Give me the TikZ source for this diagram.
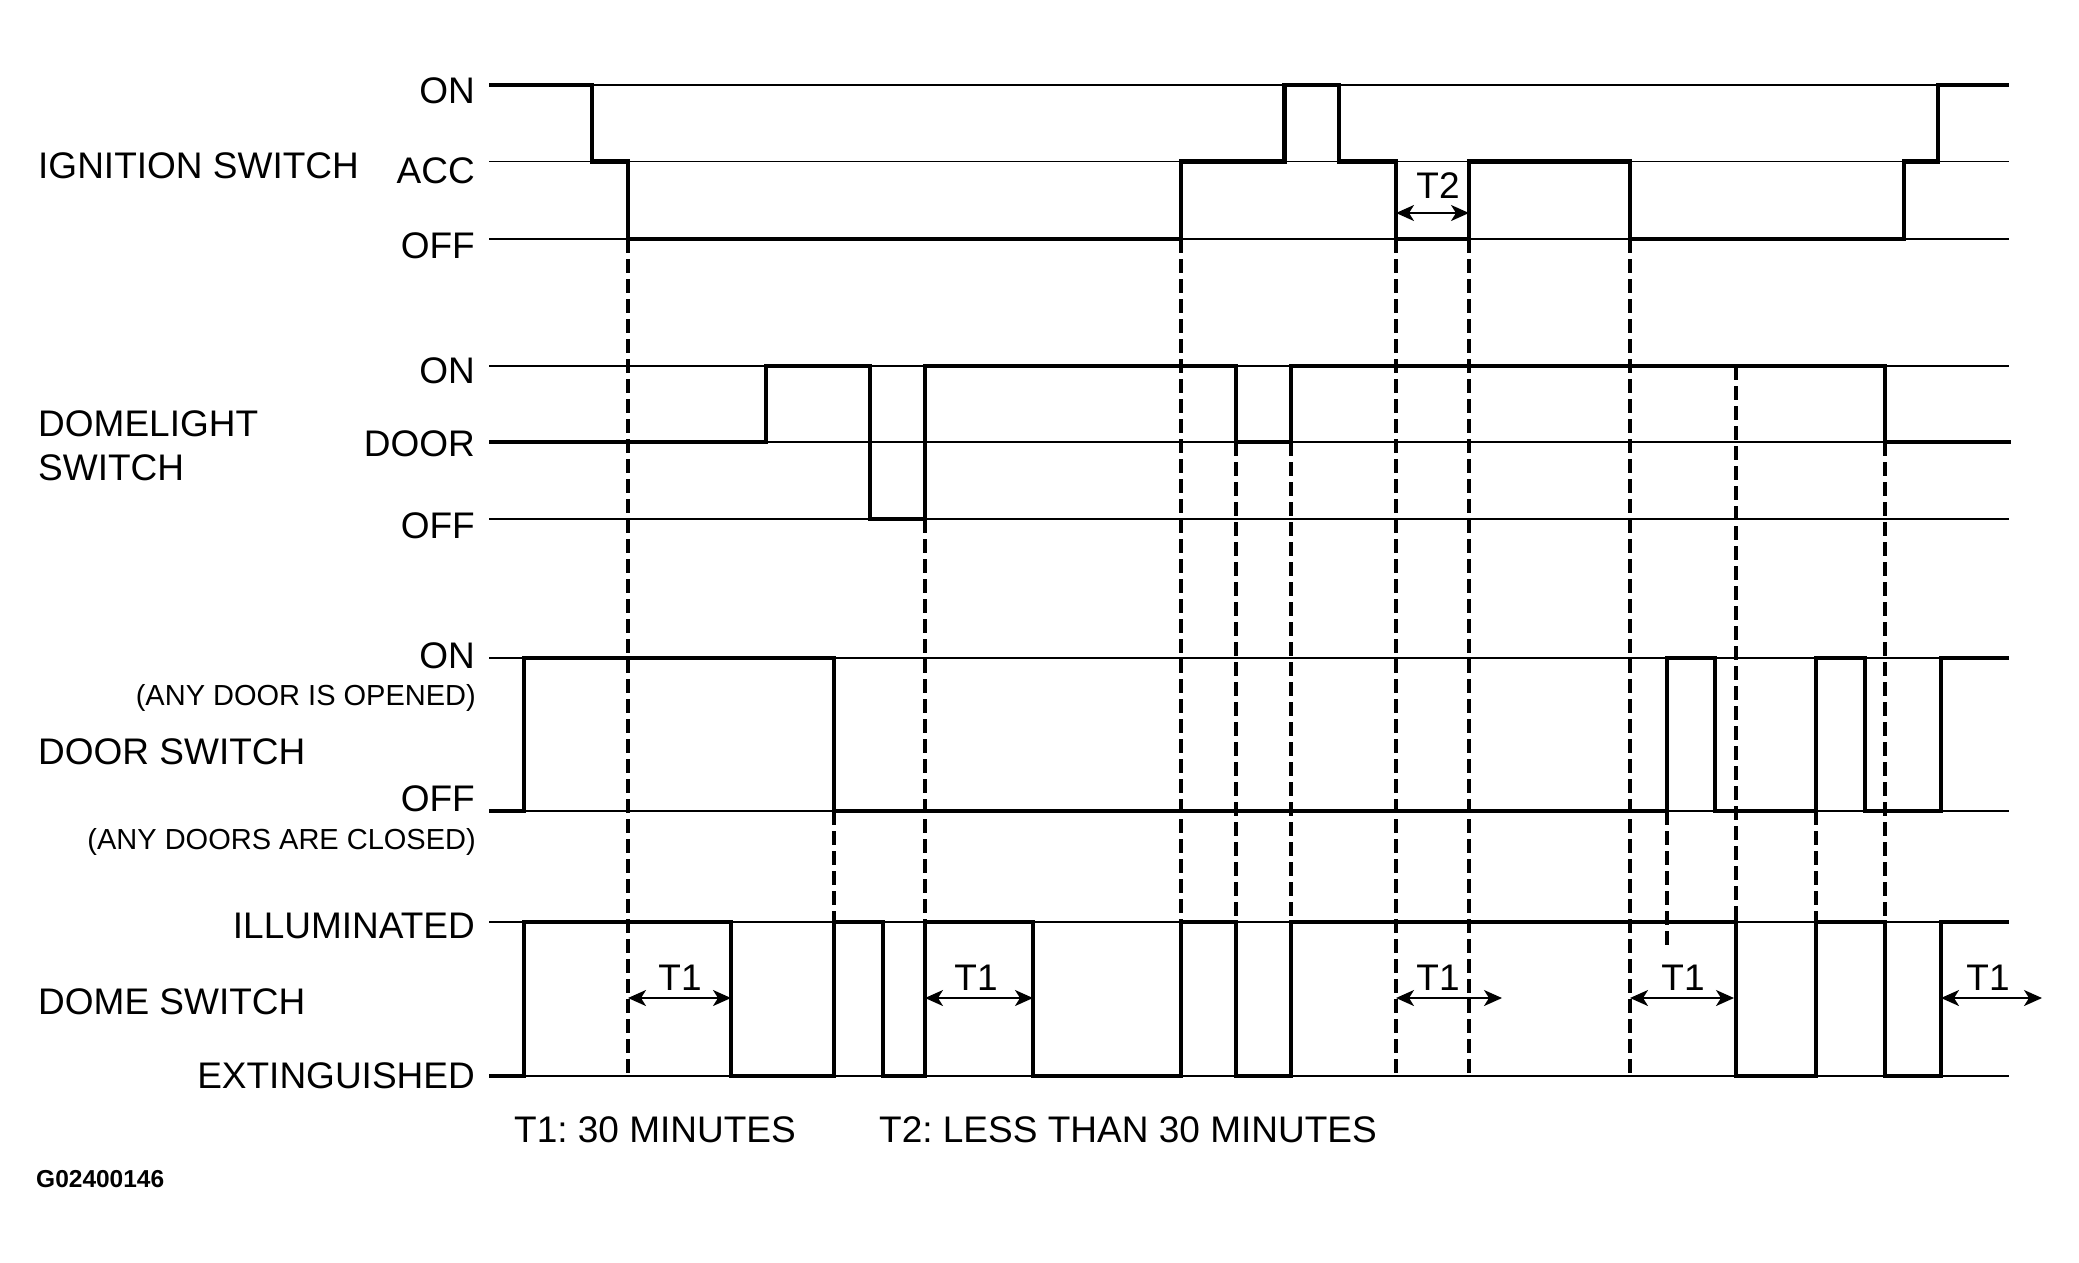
\documentclass[tikz,border=0pt]{standalone}
\usepackage{fontspec}
\setmainfont{Liberation Sans}
\usetikzlibrary{arrows.meta}
\frenchspacing
\begin{document}
\begin{tikzpicture}[x=1pt,y=-1pt,
  gridline/.style={line width=1.3pt},
  sig/.style={line width=4.4pt, line join=miter},
  vdash/.style={line width=3.2pt, dash pattern=on 13.5pt off 6.5pt},
  tarrow/.style={line width=2pt, {Stealth[length=18pt,width=16pt,inset=5pt]}-{Stealth[length=18pt,width=16pt,inset=5pt]}},
  lab/.style={inner sep=0pt, font=\fontsize{37}{44}\selectfont},
  state/.style={lab, anchor=base east},
  sname/.style={lab, anchor=base west},
  tlab/.style={lab, anchor=base},
  note/.style={inner sep=0pt, anchor=base east, font=\fontsize{29}{34}\selectfont},
]
\useasboundingbox[fill=white] (0,0) rectangle (2079,1262);
% level lines
\foreach \yy in {85,161.5,239,366,442,519,658,811,922,1076}
  \draw[gridline] (489,\yy) -- (2009,\yy);
% dashed guide lines
\draw[vdash] (628,239) -- (628,1076);
\draw[vdash] (925,519) -- (925,922);
\draw[vdash] (834,811) -- (834,922);
\draw[vdash] (1181,239) -- (1181,922);
\draw[vdash] (1236,442) -- (1236,922);
\draw[vdash] (1291,442) -- (1291,922);
\draw[vdash] (1396,239) -- (1396,1076);
\draw[vdash] (1469,239) -- (1469,1076);
\draw[vdash] (1630,239) -- (1630,1076);
\draw[vdash] (1736,366) -- (1736,922);
\draw[vdash] (1885,442) -- (1885,922);
\draw[vdash] (1667,811) -- (1667,947);
\draw[vdash] (1816,811) -- (1816,922);
% ignition switch
\draw[sig] (489,85) -- (592,85) -- (592,161.5) -- (628,161.5) -- (628,239) -- (1181,239) -- (1181,161.5) -- (1284.5,161.5) -- (1284.5,85) -- (1339,85) -- (1339,161.5) -- (1396,161.5) -- (1396,239) -- (1469,239) -- (1469,161.5) -- (1630,161.5) -- (1630,239) -- (1904,239) -- (1904,161.5) -- (1938,161.5) -- (1938,85) -- (2009,85);
% domelight switch
\draw[sig] (489,442) -- (766,442) -- (766,366) -- (870,366) -- (870,519) -- (925,519) -- (925,366) -- (1236,366) -- (1236,442) -- (1291,442) -- (1291,366) -- (1885,366) -- (1885,442) -- (2011,442);
% door switch
\draw[sig] (489,811) -- (524,811) -- (524,658) -- (834,658) -- (834,811) -- (1667,811) -- (1667,658) -- (1715,658) -- (1715,811) -- (1816,811) -- (1816,658) -- (1865,658) -- (1865,811) -- (1941,811) -- (1941,658) -- (2009,658);
% dome switch
\draw[sig] (489,1076) -- (524,1076) -- (524,922) -- (731,922) -- (731,1076) -- (834,1076) -- (834,922) -- (883,922) -- (883,1076) -- (925,1076) -- (925,922) -- (1033,922) -- (1033,1076) -- (1181,1076) -- (1181,922) -- (1236,922) -- (1236,1076) -- (1291,1076) -- (1291,922) -- (1736,922) -- (1736,1076) -- (1816,1076) -- (1816,922) -- (1885,922) -- (1885,1076) -- (1941,1076) -- (1941,922) -- (2009,922);
% time arrows
\draw[tarrow] (1396,213) -- (1469,213);
\node[tlab] (t2) at (1438,198) {T2};
\draw[tarrow] (628,998) -- (731,998);
\node[tlab] (t1a) at (680,990) {T1};
\draw[tarrow] (925,998) -- (1033,998);
\node[tlab] (t1b) at (976,990) {T1};
\draw[tarrow] (1396,998) -- (1502,998);
\node[tlab] (t1c) at (1438,990) {T1};
\draw[tarrow] (1630,998) -- (1734,998);
\node[tlab] (t1d) at (1683,990) {T1};
\draw[tarrow] (1941,998) -- (2042,998);
\node[tlab] (t1e) at (1988,990) {T1};
% signal names
\node[sname] (nign) at (38,178) {IGNITION SWITCH};
\node[sname] (ndl1) at (38,436) {DOMELIGHT};
\node[sname] (ndl2) at (38,480) {SWITCH};
\node[sname] (ndoor) at (38,764) {DOOR SWITCH};
\node[sname] (ndome) at (38,1014) {DOME SWITCH};
% state labels
\node[state] (s1) at (475,103) {ON};
\node[state] (s2) at (475,183) {ACC};
\node[state] (s3) at (475,258) {OFF};
\node[state] (s4) at (475,383) {ON};
\node[state] (s5) at (475,456) {DOOR};
\node[state] (s6) at (475,538) {OFF};
\node[state] (s7) at (475,668) {ON};
\node[note] (s7n) at (476,705) {(ANY DOOR IS OPENED)};
\node[state] (s8) at (475,811) {OFF};
\node[note] (s8n) at (476,849) {(ANY DOORS ARE CLOSED)};
\node[state] (s9) at (475,938) {ILLUMINATED};
\node[state] (s10) at (475,1088) {EXTINGUISHED};
% footnotes
\node[sname] (f1) at (514,1142) {T1: 30 MINUTES};
\node[sname] (f2) at (879,1142) {T2: LESS THAN 30 MINUTES};
\node[inner sep=0pt, anchor=base west, font=\fontsize{24.5}{28}\selectfont\bfseries] (code) at (36,1187) {G02400146};
\end{tikzpicture}
\end{document}
